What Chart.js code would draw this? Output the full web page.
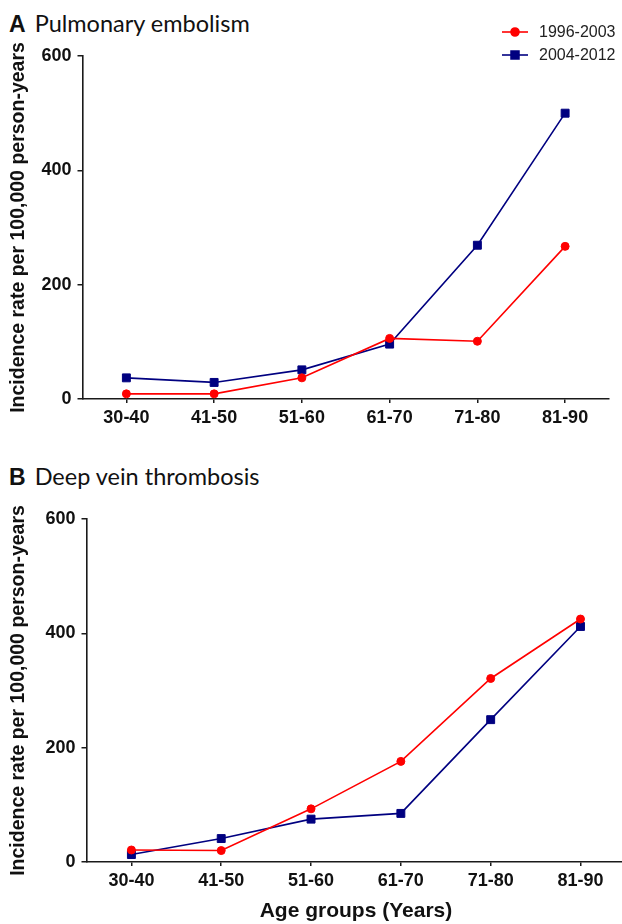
<!DOCTYPE html>
<html>
<head>
<meta charset="utf-8">
<script src="https://cdn.jsdelivr.net/npm/chart.js@4.4.1/dist/chart.umd.min.js"></script>
<style>
  html, body { margin: 0; padding: 0; background: #fff; overflow: hidden; }
  #page { position: relative; width: 622px; height: 924px; overflow: hidden; }
  .ptitle { position: absolute; left: 9px; white-space: nowrap; color: #111; line-height: 28px; }
  .ptitle b { font-family: "Liberation Sans", Arial, sans-serif; font-size: 23px; font-weight: bold; }
  .ptitle span { font-family: Lato, "Open Sans", sans-serif; font-size: 23.5px; margin-left: 9px; }
  #wrapA { position: absolute; left: 0; top: 0; width: 622px; height: 440px; }
  #wrapB { position: absolute; left: 0; top: 470px; width: 632px; height: 454px; }
</style>
</head>
<body>
<div id="page">
  <div class="ptitle" id="titleA" style="top: 9px;"><b>A</b><span>Pulmonary embolism</span></div>
  <div class="ptitle" id="titleB" style="top: 462px;"><b>B</b><span>Deep vein thrombosis</span></div>
  <div id="wrapA"><canvas id="chartA" width="622" height="440"></canvas></div>
  <div id="wrapB"><canvas id="chartB" width="632" height="454"></canvas></div>
</div>
<script>
// Data
const ageGroups = ['30-40', '41-50', '51-60', '61-70', '71-80', '81-90'];
const seriesNames = ['1996-2003', '2004-2012'];
const yTicks = [0, 200, 400, 600];

// A: Pulmonary embolism
const peEarly = [9, 9, 37, 106, 101, 267];
const peLate = [37, 29, 51, 96, 269, 500];

// B: Deep vein thrombosis
const dvtEarly = [21, 20, 93, 176, 321, 425];
const dvtLate = [13, 41, 75, 85, 249, 412];

const RED = '#ff0000';
const NAVY = '#000080';
const AXIS = '#1a1a1a';
const yTitle = 'Incidence rate per 100,000 person-years';

// legend drawn top-right of panel A (line + marker + label)
const lineLegend = {
    id: 'lineLegend',
    afterDraw(chart) {
        const ctx = chart.ctx;
        const rows = [32, 55];
        ctx.save();
        chart.data.datasets.forEach((ds, i) => {
            const y = rows[i];
            ctx.strokeStyle = ds.borderColor;
            ctx.lineWidth = 1.6;
            ctx.beginPath();
            ctx.moveTo(502, y);
            ctx.lineTo(528, y);
            ctx.stroke();
            Chart.helpers.drawPoint(ctx, {
                pointStyle: ds.pointStyle,
                radius: ds.pointRadius,
                borderWidth: 1
            }, 515, y);
            ctx.fillStyle = ds.borderColor;
            ctx.fill();
            ctx.fillStyle = '#222';
            ctx.font = '16px "Liberation Sans", Arial, sans-serif';
            ctx.textBaseline = 'middle';
            ctx.textAlign = 'left';
            ctx.fillText(ds.label, 539, y + 1);
        });
        ctx.restore();
    }
};

function makeDatasets(early, late) {
    return [{
        label: seriesNames[0],
        data: early,
        borderColor: RED,
        backgroundColor: RED,
        borderWidth: 1.6,
        pointStyle: 'circle',
        pointRadius: 4,
        pointBorderWidth: 1,
        tension: 0
    }, {
        label: seriesNames[1],
        data: late,
        borderColor: NAVY,
        backgroundColor: NAVY,
        borderWidth: 1.6,
        pointStyle: 'rect',
        pointRadius: 5.6,
        pointBorderWidth: 1,
        tension: 0
    }];
}

function makeOptions(cfg) {
    const tickFont = { family: '"Liberation Sans", Arial, sans-serif', size: 18, weight: 'bold' };
    return {
        responsive: false,
        animation: false,
        layout: { padding: { left: 0, right: cfg.padRight, top: cfg.padTop, bottom: 0 } },
        plugins: { legend: { display: false }, tooltip: { enabled: false } },
        scales: {
            x: {
                type: 'category',
                offset: true,
                grid: { display: true, drawOnChartArea: false, drawTicks: true, tickLength: 4, offset: false, color: AXIS, lineWidth: 1.5 },
                border: { display: true, color: AXIS, width: 1.6 },
                ticks: { color: '#111', font: tickFont, padding: 4, maxRotation: 0, autoSkip: false },
                title: cfg.xTitle ? {
                    display: true,
                    text: cfg.xTitle,
                    color: '#111',
                    font: { family: '"Liberation Sans", Arial, sans-serif', size: 21, weight: 'bold' },
                    padding: { top: 0, bottom: 0 }
                } : { display: false },
                afterFit(scale) { scale.height = cfg.xHeight; }
            },
            y: {
                min: 0,
                max: 600,
                afterBuildTicks(scale) { scale.ticks = yTicks.map(v => ({ value: v })); },
                grid: { display: true, drawOnChartArea: false, drawTicks: true, tickLength: 5, color: AXIS, lineWidth: 1.5 },
                border: { display: true, color: AXIS, width: 1.6 },
                ticks: { color: '#111', font: tickFont, padding: 6 },
                title: {
                    display: true,
                    text: yTitle,
                    color: '#111',
                    font: { family: '"Liberation Sans", Arial, sans-serif', size: 19.5, weight: 'bold' },
                    padding: { top: 7, bottom: 0 }
                },
                afterFit(scale) { scale.width = cfg.yWidth; }
            }
        }
    };
}

new Chart(document.getElementById('chartA'), {
    type: 'line',
    data: { labels: ageGroups, datasets: makeDatasets(peEarly, peLate) },
    options: makeOptions({ padTop: 56, padRight: 13, yWidth: 82.5, xHeight: 41, xTitle: null }),
    plugins: [lineLegend]
});

new Chart(document.getElementById('chartB'), {
    type: 'line',
    data: { labels: ageGroups, datasets: makeDatasets(dvtEarly, dvtLate) },
    options: makeOptions({ padTop: 49, padRight: 6, yWidth: 86.5, xHeight: 62, xTitle: 'Age groups (Years)' })
});
</script>
</body>
</html>
